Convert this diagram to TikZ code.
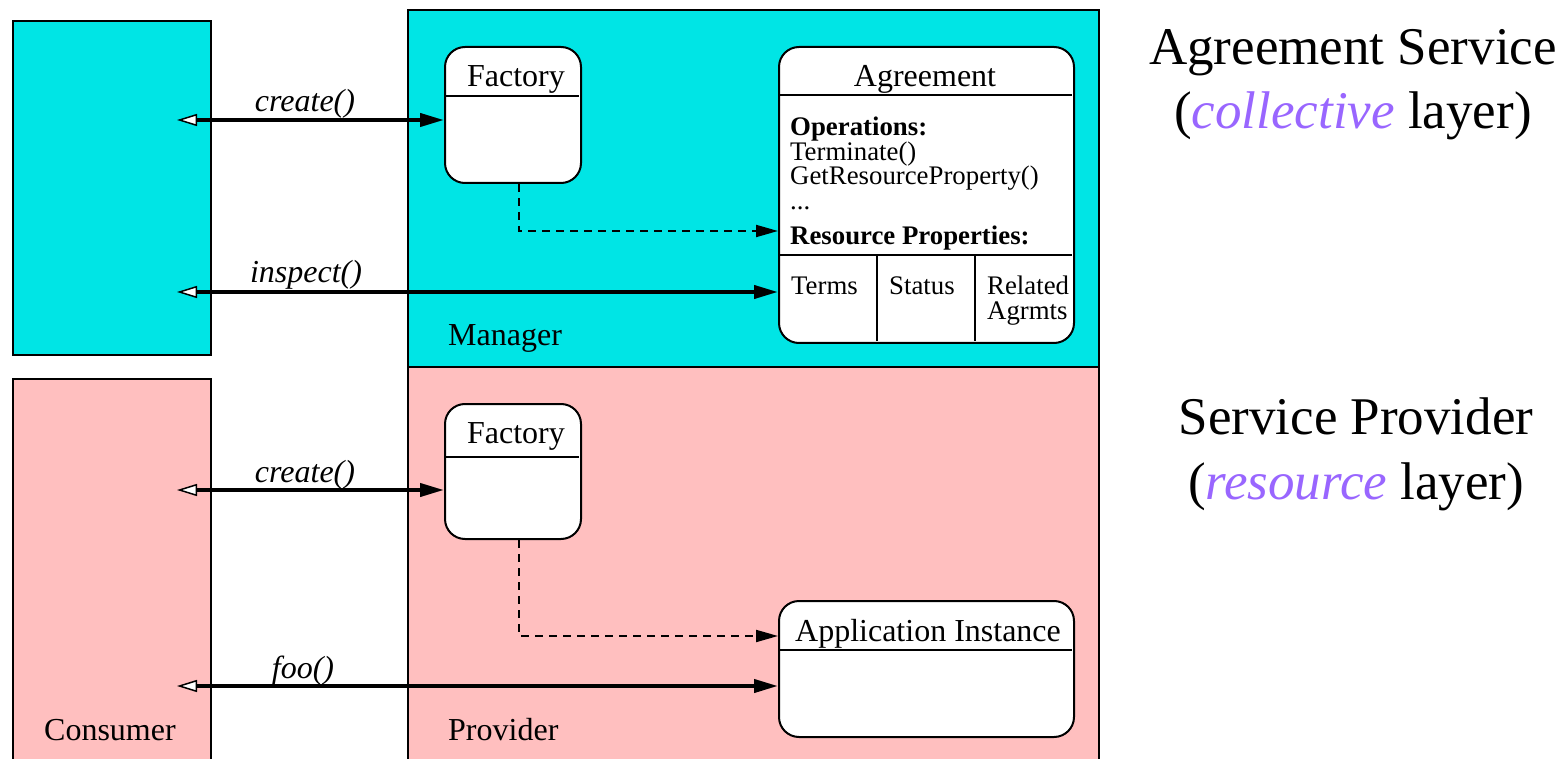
\documentclass[tikz,border=0pt]{standalone}
\usepackage{fontspec}
\setmainfont{Liberation Serif}
\usetikzlibrary{arrows.meta}
\definecolor{cyanbg}{RGB}{0,229,229}
\definecolor{pinkbg}{RGB}{255,191,191}
\definecolor{purp}{RGB}{153,102,255}
\newcommand\mainf{\fontsize{32}{36}\selectfont}
\newcommand\smallf{\fontsize{26.8}{30}\selectfont}
\newcommand\hugef{\fontsize{53}{60}\selectfont}
\begin{document}
\begin{tikzpicture}[x=1pt,y=-1pt,
 panel/.style={draw=black, line width=2pt, anchor=north west, inner sep=0pt},
 umlbox/.style={draw=black, fill=white, line width=2pt, rounded corners=20pt, anchor=north west, inner sep=0pt},
 callarrow/.style={line width=4pt, {Triangle[fill=white, line width=1.5pt, length=20pt, width=12pt]}-{Triangle[length=24pt, width=13pt]}},
 dasharrow/.style={line width=2pt, dash pattern=on 8pt off 6pt, -{Triangle[length=22pt, width=12pt]}},
 divider/.style={line width=2pt},
 lbl/.style={font=\mainf, inner sep=0pt, anchor=base},
 lblw/.style={font=\mainf, inner sep=0pt, anchor=base west},
 small/.style={font=\smallf, inner sep=0pt, anchor=base west},
 side/.style={font=\hugef, inner sep=0pt, anchor=base}
]
\clip (0,0) rectangle (1564,759);
% panels
\node[panel, fill=cyanbg, minimum width=198pt, minimum height=334pt] (consA) at (12,20) {};
\node[panel, fill=pinkbg, minimum width=198pt, minimum height=400pt] (consB) at (12,378) {};
\node[panel, fill=cyanbg, minimum width=691pt, minimum height=357pt] (mgr) at (407,9) {};
\node[panel, fill=pinkbg, minimum width=691pt, minimum height=410pt] (prov) at (407,366) {};
% uml boxes
\node[umlbox, minimum width=136pt, minimum height=136pt] (facA) at (444,46) {};
\node[umlbox, minimum width=295pt, minimum height=296pt] (agr) at (778,46) {};
\node[umlbox, minimum width=136pt, minimum height=135pt] (facB) at (444,403) {};
\node[umlbox, minimum width=295pt, minimum height=136pt] (app) at (778,600) {};
% dividers
\draw[divider] (445,96) -- (579,96);
\draw[divider] (445,457) -- (579,457);
\draw[divider] (779,95) -- (1072,95);
\draw[divider] (779,255) -- (1072,255);
\draw[divider] (877,255) -- (877,341);
\draw[divider] (975,255) -- (975,341);
\draw[divider] (779,650) -- (1072,650);
% titles
\node[lbl] (tFacA) at (516,87) {Factory};
\node[lbl] (tFacB) at (516,443) {Factory};
\node[lbl] (tAgr) at (925,87) {Agreement};
\node[lbl] (tApp) at (928,641) {Application Instance};
% agreement contents
\node[small, font=\smallf\bfseries] (ops) at (790,136) {Operations:};
\node[small] (op1) at (790,161) {Terminate()};
\node[small] (op2) at (790,185) {GetResourceProperty()};
\node[small] (op3) at (790,210) {...};
\node[small, font=\smallf\bfseries] (rp) at (790,245) {Resource Properties:};
\node[small] (terms) at (791,295) {Terms};
\node[small] (status) at (889,295) {Status};
\node[small] (rel) at (987,295) {Related};
\node[small] (agrm) at (987,320) {Agrmts};
% panel labels
\node[lblw] (lMgr) at (448,345) {Manager};
\node[lblw] (lCons) at (44,740) {Consumer};
\node[lblw] (lProv) at (448,740) {Provider};
% arrows
\coordinate (cA1) at (177,120);
\coordinate (cA2) at (177,292);
\coordinate (cB1) at (177,490);
\coordinate (cB2) at (177,686);
\draw[callarrow] (cA1) -- (facA.west |- cA1);
\draw[callarrow] (cA2) -- (agr.west |- cA2);
\draw[callarrow] (cB1) -- (facB.west |- cB1);
\draw[callarrow] (cB2) -- (app.west |- cB2);
\node[lbl, font=\mainf\itshape] (l1) at (305,112) {create()};
\node[lbl, font=\mainf\itshape] (l2) at (306,283) {inspect()};
\node[lbl, font=\mainf\itshape] (l3) at (305,482) {create()};
\node[lbl, font=\mainf\itshape] (l4) at (303,678) {foo()};
% dashed
\coordinate (dA) at (0,231);
\coordinate (dB) at (0,636);
\draw[dasharrow] ([xshift=6pt]facA.south) |- (agr.west |- dA);
\draw[dasharrow] ([xshift=6pt]facB.south) |- (app.west |- dB);
% side text
\node[side] (s1) at (1353,65) {Agreement Service};
\node[side] (s2) at (1353,129) {(\textcolor{purp}{\itshape collective} layer)};
\node[side] (s3) at (1356,434) {Service Provider};
\node[side] (s4) at (1356,499) {(\textcolor{purp}{\itshape resource} layer)};
\end{tikzpicture}
\end{document}
